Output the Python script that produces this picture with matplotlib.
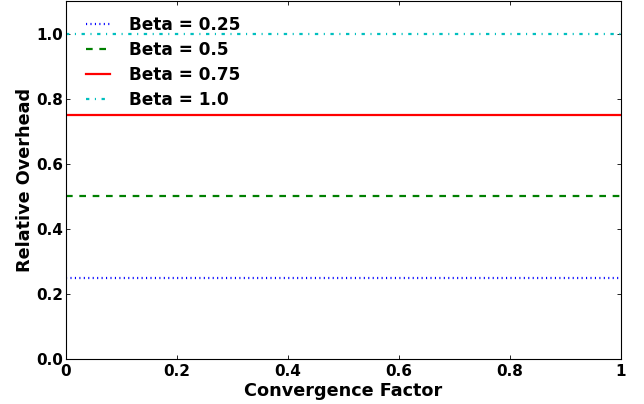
import matplotlib
matplotlib.use("Agg")
import matplotlib.pyplot as plt

x_vals = [0.0, 1.0]
betas = [0.25, 0.5, 0.75, 1.0]
labels = ["Beta = 0.25", "Beta = 0.5", "Beta = 0.75", "Beta = 1.0"]
colors = ["blue", "green", "red", "c"]
dash_patterns = [(0.8, 2.4), (4.8, 4.8), None, (2.4, 4.0, 0.8, 4.0)]
xticks = [0, 0.2, 0.4, 0.6, 0.8, 1.0]
xticklabels = ["0", "0.2", "0.4", "0.6", "0.8", "1"]
yticks = [0.0, 0.2, 0.4, 0.6, 0.8, 1.0]

plt.rcParams['font.family'] = ['DejaVu Sans']
plt.rcParams['font.weight'] = 'bold'
plt.rcParams['lines.scale_dashes'] = False

fig = plt.figure(figsize=(6.44, 4.04), dpi=100)
ax = fig.add_axes([66/644, 1 - 359/404, (621-66)/644, (359-1)/404])
for b, lab, c, d in zip(betas, labels, colors, dash_patterns):
    line, = ax.plot(x_vals, [b, b], color=c, label=lab, linewidth=1.6)
    if d is not None:
        line.set_dashes(d)

for sp in ax.spines.values():
    sp.set_linewidth(0.8)

ax.set_xlim(0, 1)
ax.set_ylim(0, 1.1)
ax.set_xticks(xticks)
ax.set_xticklabels(xticklabels, fontsize=11, fontweight='bold')
ax.set_yticks(yticks)
ax.set_yticklabels([f"{v:.1f}" for v in yticks], fontsize=11, fontweight='bold')
ax.tick_params(direction='in', top=True, right=True, length=3.2, width=0.6)
ax.tick_params(axis='x', pad=3.5)
ax.tick_params(axis='y', pad=2)
ax.set_xlabel("Convergence Factor", fontsize=12.7, fontweight='bold', labelpad=2)
ax.set_ylabel("Relative Overhead", fontsize=12.7, fontweight='bold', labelpad=1.5)
leg = ax.legend(loc='upper left', frameon=False, prop={'size': 12.2, 'weight': 'bold'},
                numpoints=2, handlelength=2.0, handletextpad=0.8,
                borderpad=0.4, borderaxespad=0.5, labelspacing=0.4)
fig.savefig("out.png", dpi=100)
